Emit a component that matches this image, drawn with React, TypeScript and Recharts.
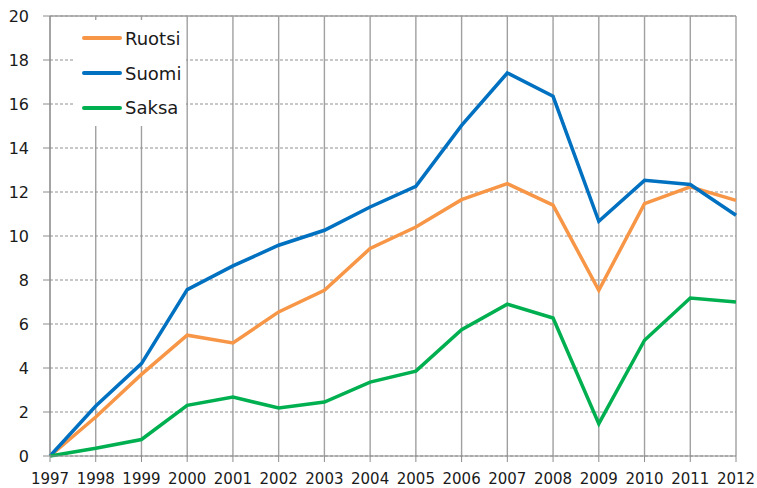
import React from "react";
import { LineChart, Line, XAxis, YAxis, CartesianGrid, Legend, ReferenceLine } from "recharts";

const years = [1997, 1998, 1999, 2000, 2001, 2002, 2003, 2004, 2005, 2006, 2007, 2008, 2009, 2010, 2011, 2012];
const ruotsi = [0, 1.77, 3.71, 5.49, 5.14, 6.55, 7.53, 9.43, 10.41, 11.65, 12.38, 11.4, 7.53, 11.47, 12.23, 11.62];
const suomi = [0, 2.27, 4.2, 7.56, 8.64, 9.58, 10.26, 11.32, 12.26, 15.03, 17.41, 16.35, 10.67, 12.53, 12.34, 10.94];
const saksa = [0, 0.35, 0.75, 2.3, 2.68, 2.18, 2.45, 3.36, 3.86, 5.74, 6.9, 6.27, 1.47, 5.26, 7.18, 7.0];
const yTicks = [0, 2, 4, 6, 8, 10, 12, 14, 16, 18, 20];
const seriesOrder = ["Ruotsi", "Suomi", "Saksa"];

const data = years.map((y, i) => ({ year: y, Ruotsi: ruotsi[i], Suomi: suomi[i], Saksa: saksa[i] }));

const FONT = "'DejaVu Sans', sans-serif";

const LegendBox = (props: any) => {
  const payload = [...(props.payload || [])].sort(
    (a: any, b: any) => seriesOrder.indexOf(a.value) - seriesOrder.indexOf(b.value)
  );
  return (
    <div style={{ background: "#fff", width: 111, height: 106, paddingTop: 1, boxSizing: "border-box" }}>
      {payload.map((p: any) => (
        <div key={p.value} style={{ display: "flex", alignItems: "center", height: 34.7, fontFamily: FONT, fontSize: 18, color: "#1a1a1a" }}>
          <div style={{ marginLeft: 7, width: 40, height: 4, background: p.color, borderRadius: 2 }} />
          <span style={{ marginLeft: 3 }}>{p.value}</span>
        </div>
      ))}
    </div>
  );
};

export default function App() {
  return (
    <div style={{ position: "absolute", left: 0, top: 0, width: 757, height: 488, background: "#fff" }}>
      <LineChart width={757} height={488} data={data} margin={{ top: 16, right: 21, left: 0, bottom: 2 }}>
        <CartesianGrid horizontal={false} stroke="#a0a0a0" strokeWidth={1.4} />
        <CartesianGrid vertical={false} stroke="#909090" strokeDasharray="3 2" />
        <ReferenceLine y={20} stroke="#a0a0a0" strokeWidth={1.4} />
        <XAxis
          dataKey="year"
          height={30}
          interval={0}
          stroke="#8c8c8c"
          tickSize={6}
          tickMargin={11}
          tick={{ fill: "#1a1a1a", fontSize: 15, fontFamily: FONT }}
        />
        <YAxis
          width={50}
          domain={[0, 20]}
          ticks={yTicks}
          interval={0}
          stroke="#8c8c8c"
          tickSize={7}
          tickMargin={14}
          tick={{ fill: "#1a1a1a", fontSize: 16, fontFamily: FONT }}
        />
        <Legend
          layout="vertical"
          align="center"
          verticalAlign="middle"
          content={LegendBox}
          wrapperStyle={{ left: 75, top: 20, width: 111, height: 106 }}
        />
        <Line dataKey="Ruotsi" stroke="#F79646" strokeWidth={3.5} dot={false} isAnimationActive={false} />
        <Line dataKey="Suomi" stroke="#0070C0" strokeWidth={3.5} dot={false} isAnimationActive={false} />
        <Line dataKey="Saksa" stroke="#00B050" strokeWidth={3.5} dot={false} isAnimationActive={false} />
      </LineChart>
    </div>
  );
}
